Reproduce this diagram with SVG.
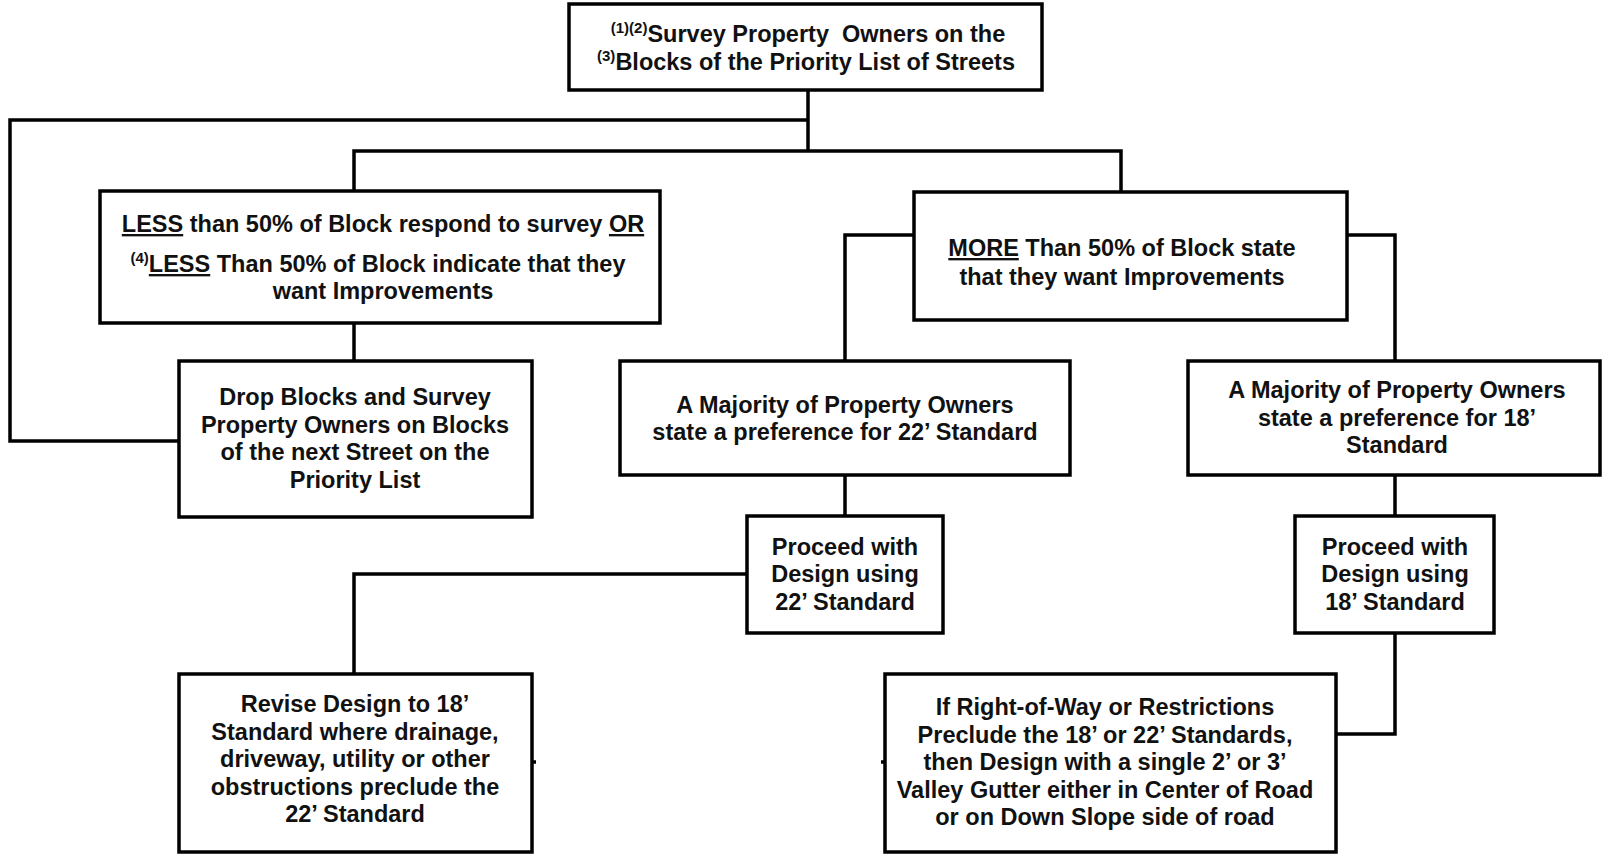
<svg xmlns="http://www.w3.org/2000/svg" width="1602" height="854" viewBox="0 0 1602 854">
<style>
.box{fill:#fff;stroke:#000;stroke-width:3.5}
.ln{fill:none;stroke:#000;stroke-width:3.5}
text{font-family:"Liberation Sans",Arial,sans-serif;font-weight:bold;font-size:23.5px;fill:#111;text-anchor:middle}
.sup{font-size:15px}
.u{text-decoration:underline}
</style>
<rect width="1602" height="854" fill="#fff"/>
<g id="connectors">
<polyline class="ln" points="808,90 808,151"/>
<polyline class="ln" points="808,120 10,120 10,441 179,441"/>
<polyline class="ln" points="354,191 354,151 1121,151 1121,192"/>
<polyline class="ln" points="354,323 354,361"/>
<polyline class="ln" points="914,235 845,235 845,361"/>
<polyline class="ln" points="1347,235 1395,235 1395,361"/>
<polyline class="ln" points="845,475 845,516"/>
<polyline class="ln" points="747,574 354,574 354,674"/>
<polyline class="ln" points="1395,475 1395,516"/>
<polyline class="ln" points="1395,633 1395,734 1336,734"/>
<line class="ln" x1="532" y1="762" x2="536" y2="762" stroke-width="2"/>
<line class="ln" x1="881" y1="762" x2="885" y2="762" stroke-width="2"/>
</g>
<g id="n_survey">
<rect class="box" x="569" y="4" width="473" height="86"/>
<text x="808" y="42"><tspan class="sup" dy="-9">(1)(2)</tspan><tspan dy="9">Survey Property&#160; Owners on the</tspan></text>
<text x="806" y="70"><tspan class="sup" dy="-9">(3)</tspan><tspan dy="9">Blocks of the Priority List of Streets</tspan></text>
</g>
<g id="n_less">
<rect class="box" x="100" y="191" width="560" height="132"/>
<text x="383" y="232"><tspan class="u">LESS</tspan> than 50% of Block respond to survey <tspan class="u">OR</tspan></text>
<text x="378" y="272"><tspan class="sup" dy="-9">(4)</tspan><tspan class="u" dy="9">LESS</tspan> Than 50% of Block indicate that they</text>
<text x="383" y="299">want Improvements</text>
</g>
<g id="n_drop">
<rect class="box" x="179" y="361" width="353" height="156"/>
<text x="355" y="405">Drop Blocks and Survey</text>
<text x="355" y="433">Property Owners on Blocks</text>
<text x="355" y="460">of the next Street on the</text>
<text x="355" y="488">Priority List</text>
</g>
<g id="n_more">
<rect class="box" x="914" y="192" width="433" height="128"/>
<text x="1122" y="256"><tspan class="u">MORE</tspan> Than 50% of Block state</text>
<text x="1122" y="285">that they want Improvements</text>
</g>
<g id="n_maj22">
<rect class="box" x="620" y="361" width="450" height="114"/>
<text x="845" y="413">A Majority of Property Owners</text>
<text x="845" y="440">state a preference for 22’ Standard</text>
</g>
<g id="n_maj18">
<rect class="box" x="1188" y="361" width="412" height="114"/>
<text x="1397" y="398">A Majority of Property Owners</text>
<text x="1397" y="426">state a preference for 18’</text>
<text x="1397" y="453">Standard</text>
</g>
<g id="n_proc22">
<rect class="box" x="747" y="516" width="196" height="117"/>
<text x="845" y="555">Proceed with</text>
<text x="845" y="582">Design using</text>
<text x="845" y="610">22’ Standard</text>
</g>
<g id="n_proc18">
<rect class="box" x="1295" y="516" width="199" height="117"/>
<text x="1395" y="555">Proceed with</text>
<text x="1395" y="582">Design using</text>
<text x="1395" y="610">18’ Standard</text>
</g>
<g id="n_revise">
<rect class="box" x="179" y="674" width="353" height="178"/>
<text x="355" y="712">Revise Design to 18’</text>
<text x="355" y="740">Standard where drainage,</text>
<text x="355" y="767">driveway, utility or other</text>
<text x="355" y="795">obstructions preclude the</text>
<text x="355" y="822">22’ Standard</text>
</g>
<g id="n_if">
<rect class="box" x="885" y="674" width="451" height="178"/>
<text x="1105" y="715">If Right-of-Way or Restrictions</text>
<text x="1105" y="743">Preclude the 18’ or 22’ Standards,</text>
<text x="1105" y="770">then Design with a single 2’ or 3’</text>
<text x="1105" y="798">Valley Gutter either in Center of Road</text>
<text x="1105" y="825">or on Down Slope side of road</text>
</g>
</svg>
